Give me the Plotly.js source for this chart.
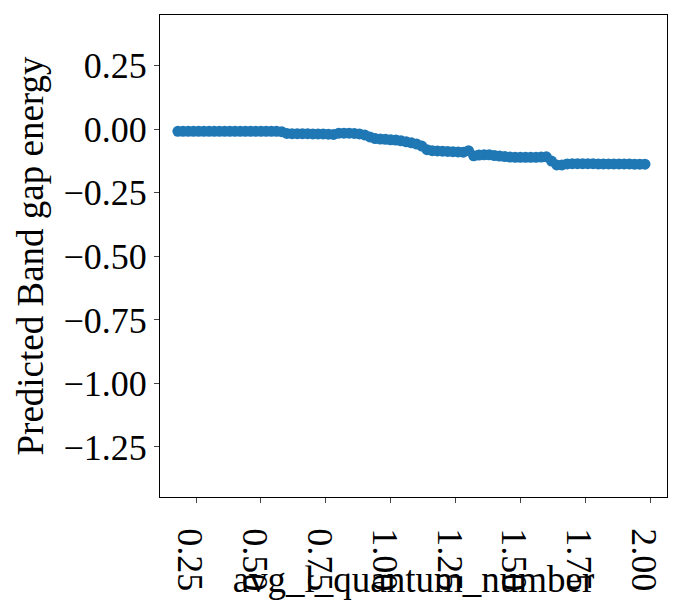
<!DOCTYPE html><html><head><script src="https://cdn.plot.ly/plotly-3.0.1.min.js"></script></head><body style="margin:0"><div id="c" style="width:700px;height:600px"></div><script>
const xVals=[0.18,0.20,0.22,0.24,0.26,0.28,0.30,0.32,0.34,0.36,0.38,0.40,0.42,0.44,0.46,0.48,0.50,0.52,0.54,0.56,0.58,0.60,0.62,0.64,0.66,0.68,0.70,0.72,0.74,0.76,0.78,0.80,0.82,0.84,0.86,0.88,0.90,0.92,0.94,0.96,0.98,1.00,1.02,1.04,1.06,1.08,1.10,1.12,1.14,1.16,1.18,1.20,1.22,1.24,1.26,1.28,1.30,1.32,1.34,1.36,1.38,1.40,1.42,1.44,1.46,1.48,1.50,1.52,1.54,1.56,1.58,1.60,1.62,1.64,1.66,1.68,1.70,1.72,1.74,1.76,1.78,1.80,1.82,1.84,1.86,1.88,1.90,1.92,1.94,1.96,1.98];
const yVals=[-0.008,-0.008,-0.008,-0.008,-0.008,-0.008,-0.008,-0.008,-0.008,-0.008,-0.008,-0.008,-0.008,-0.008,-0.008,-0.008,-0.008,-0.008,-0.008,-0.008,-0.009,-0.016,-0.017,-0.017,-0.017,-0.017,-0.018,-0.018,-0.018,-0.019,-0.020,-0.015,-0.015,-0.015,-0.016,-0.018,-0.022,-0.030,-0.036,-0.038,-0.039,-0.041,-0.042,-0.045,-0.049,-0.053,-0.058,-0.066,-0.080,-0.084,-0.085,-0.086,-0.087,-0.088,-0.089,-0.090,-0.084,-0.104,-0.101,-0.100,-0.100,-0.103,-0.105,-0.107,-0.109,-0.110,-0.110,-0.110,-0.110,-0.110,-0.109,-0.108,-0.125,-0.140,-0.140,-0.136,-0.135,-0.135,-0.135,-0.135,-0.135,-0.136,-0.136,-0.136,-0.136,-0.136,-0.136,-0.136,-0.137,-0.137,-0.137];
const f={family:"Liberation Serif, Times New Roman, serif",color:"#000"};
Plotly.newPlot('c',[{x:xVals,y:yVals,type:'scatter',mode:'markers',marker:{color:'#1f77b4',size:11}}],{
width:700,height:600,margin:{l:160,r:33,t:15,b:103},plot_bgcolor:'#fff',paper_bgcolor:'#fff',showlegend:false,
xaxis:{range:[0.111,2.065],tickvals:[0.25,0.5,0.75,1,1.25,1.5,1.75,2],ticktext:['0.25','0.50','0.75','1.00','1.25','1.50','1.75','2.00'],ticks:'outside',ticklen:5,showline:true,mirror:true,linecolor:'#000',showgrid:false,zeroline:false,tickfont:{...f,size:36},title:{text:'avg_l_quantum_number',font:{...f,size:37},standoff:4}},
yaxis:{range:[-1.447,0.45],tickvals:[0.25,0,-0.25,-0.5,-0.75,-1,-1.25],ticktext:['0.25','0.00','\u22120.25','\u22120.50','\u22120.75','\u22121.00','\u22121.25'],ticks:'outside',ticklen:5,showline:true,mirror:true,linecolor:'#000',showgrid:false,zeroline:false,tickfont:{...f,size:36},title:{text:'Predicted Band gap energy',font:{...f,size:37},standoff:8}}
},{displayModeBar:false});
</script></body></html>
